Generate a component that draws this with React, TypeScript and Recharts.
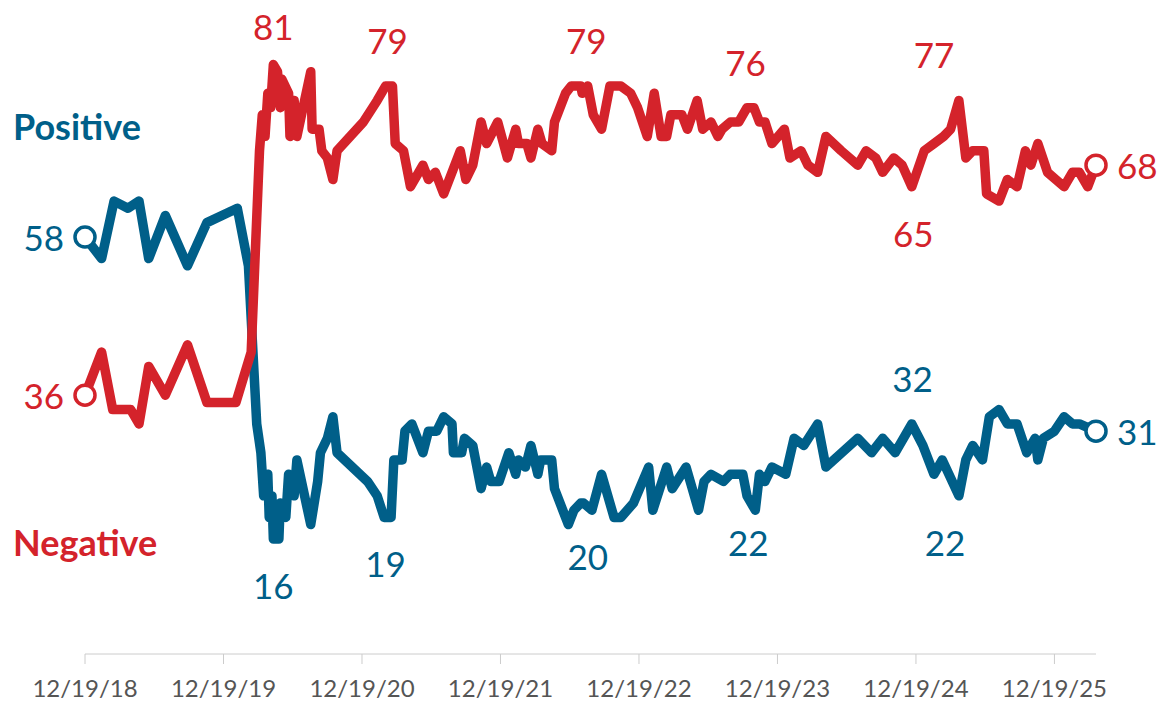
import React from 'react';
import { LineChart, Line, XAxis, YAxis, ReferenceDot } from 'recharts';

const BLUE = '#005f89';
const RED = '#d4232b';
const FONT = 'Lato, "Open Sans", sans-serif';

// x values are decimal years
const posDates = [
  2018.96, 2019.08, 2019.17, 2019.27, 2019.35, 2019.42, 2019.54, 2019.70, 2019.84, 2020.06,
  2020.14, 2020.20, 2020.23, 2020.25, 2020.28, 2020.29, 2020.31, 2020.32, 2020.36, 2020.37,
  2020.41, 2020.43, 2020.47, 2020.49, 2020.59, 2020.64, 2020.66, 2020.71, 2020.75, 2020.78,
  2021.00, 2021.07, 2021.12, 2021.17, 2021.19, 2021.25, 2021.27, 2021.32, 2021.40, 2021.44,
  2021.50, 2021.55, 2021.61, 2021.62, 2021.68, 2021.70, 2021.76, 2021.82, 2021.86, 2021.89,
  2021.95, 2022.02, 2022.07, 2022.09, 2022.14, 2022.18, 2022.23, 2022.25, 2022.33, 2022.35,
  2022.41, 2022.45, 2022.49, 2022.54, 2022.56, 2022.62, 2022.69, 2022.78, 2022.83, 2022.92,
  2023.03, 2023.06, 2023.16, 2023.20, 2023.30, 2023.39, 2023.43, 2023.48, 2023.57, 2023.62,
  2023.71, 2023.74, 2023.80, 2023.83, 2023.87, 2023.92, 2024.02, 2024.08, 2024.15, 2024.25,
  2024.31, 2024.54, 2024.64, 2024.72, 2024.81, 2024.93, 2025.01, 2025.09, 2025.15, 2025.27,
  2025.32, 2025.37, 2025.44, 2025.49, 2025.56, 2025.62, 2025.69, 2025.76, 2025.82, 2025.84,
  2025.88, 2025.96, 2026.03, 2026.09, 2026.14, 2026.26,
];
const posValues = [
  58, 55, 63, 62, 63, 55, 61, 54, 60, 62,
  54, 32, 28, 22, 25, 19, 22, 16, 16, 21,
  19, 25, 22, 27, 18, 24, 28, 30, 33, 28,
  24, 22, 19, 19, 27, 27, 31, 32, 28, 31,
  31, 33, 32, 28, 28, 30, 29, 23, 26, 24,
  24, 28, 25, 27, 26, 29, 25, 27, 27, 23,
  20, 18, 20, 21, 21, 20, 25, 19, 19, 21,
  26, 20, 26, 23, 26, 20, 24, 25, 24, 25,
  25, 22, 20, 25, 24, 26, 25, 30, 29, 32,
  26, 30, 28, 30, 28, 32, 29, 25, 27, 22,
  27, 29, 27, 33, 34, 32, 32, 28, 30, 27,
  30, 31, 33, 32, 32, 31,
];

const negDates = [
  2018.96, 2019.08, 2019.16, 2019.29, 2019.35, 2019.42, 2019.54, 2019.70, 2019.84, 2020.05,
  2020.16, 2020.22, 2020.24, 2020.26, 2020.28, 2020.30, 2020.32, 2020.35, 2020.37, 2020.38,
  2020.43, 2020.44, 2020.47, 2020.49, 2020.59, 2020.60, 2020.65, 2020.67, 2020.71, 2020.75,
  2020.78, 2020.97, 2021.07, 2021.13, 2021.18, 2021.20, 2021.26, 2021.31, 2021.40, 2021.44,
  2021.49, 2021.55, 2021.67, 2021.71, 2021.76, 2021.82, 2021.86, 2021.94, 2022.01, 2022.07,
  2022.09, 2022.15, 2022.18, 2022.23, 2022.26, 2022.33, 2022.35, 2022.43, 2022.47, 2022.54,
  2022.55, 2022.59, 2022.63, 2022.69, 2022.75, 2022.83, 2022.90, 2022.95, 2023.02, 2023.07,
  2023.12, 2023.16, 2023.19, 2023.24, 2023.27, 2023.31, 2023.38, 2023.42, 2023.48, 2023.53,
  2023.56, 2023.62, 2023.68, 2023.74, 2023.79, 2023.83, 2023.87, 2023.92, 2024.01, 2024.05,
  2024.13, 2024.18, 2024.25, 2024.31, 2024.42, 2024.54, 2024.60, 2024.67, 2024.72, 2024.80,
  2024.86, 2024.93, 2025.02, 2025.09, 2025.16, 2025.21, 2025.27, 2025.32, 2025.37, 2025.45,
  2025.47, 2025.56, 2025.62, 2025.69, 2025.75, 2025.79, 2025.84, 2025.91, 2026.03, 2026.09,
  2026.14, 2026.20, 2026.26,
];
const negValues = [
  36, 42, 34, 34, 32, 40, 36, 43, 35, 35,
  42, 70, 75, 72, 78, 76, 82, 81, 76, 80,
  78, 72, 77, 72, 81, 73, 73, 70, 69, 66,
  70, 74, 77, 79, 79, 71, 70, 65, 68, 66,
  67, 64, 70, 66, 68, 74, 71, 74, 69, 73,
  71, 71, 69, 73, 71, 70, 74, 78, 79, 79,
  78, 79, 75, 73, 79, 79, 78, 76, 72, 78,
  72, 72, 75, 75, 75, 73, 77, 73, 74, 72,
  73, 74, 74, 76, 76, 74, 74, 71, 73, 69,
  70, 68, 67, 72, 70, 68, 70, 69, 67, 69,
  68, 65, 70, 71, 72, 73, 77, 69, 70, 70,
  64, 63, 66, 65, 70, 68, 71, 67, 65, 67,
  67, 65, 68,
];

// callouts: where each number sits and whether it goes above or below the line
const negNoteDates = [2020.32, 2021.145, 2022.58, 2023.73, 2025.09, 2024.94];
const negNoteValues = [81, 79, 79, 76, 77, 65];
const negNoteSides = ['up', 'up', 'up', 'up', 'up', 'down'];

const posNoteDates = [2020.32, 2021.13, 2022.59, 2023.75, 2025.17, 2024.935];
const posNoteValues = [16, 19, 20, 22, 22, 32];
const posNoteSides = ['down', 'down', 'down', 'down', 'down', 'up'];

const xTicks = [2018.96, 2019.96, 2020.96, 2021.96, 2022.96, 2023.96, 2024.96, 2025.96];
const xTickLabels = ['12/19/18', '12/19/19', '12/19/20', '12/19/21', '12/19/22', '12/19/23', '12/19/24', '12/19/25'];

const startDate = posDates[0];
const endDate = posDates[posDates.length - 1];

const posData = posDates.map((d, i) => ({ d, v: posValues[i] }));
const negData = negDates.map((d, i) => ({ d, v: negValues[i] }));

const tag = (text: string, color: string, dx: number, dy: number, anchor: string) => (props: any) => {
  const vb = props.viewBox || {};
  const cx = vb.x + (vb.width || 0) / 2;
  const cy = vb.y + (vb.height || 0) / 2;
  return (
    <text x={cx + dx} y={cy + dy} fill={color} fontSize={35} fontFamily={FONT}
      textAnchor={anchor} dominantBaseline="central">
      {text}
    </text>
  );
};

const App: React.FC = () => {
  return (
    <div style={{ position: 'absolute', left: 0, top: 0, width: 1161, height: 705, background: '#fff' }}>
      <LineChart width={1161} height={705} margin={{ top: 7, right: 65, bottom: 0, left: 85 }}>
        <XAxis
          dataKey="d"
          type="number"
          domain={[startDate, endDate]}
          ticks={xTicks}
          tickFormatter={(v: number) => xTickLabels[xTicks.indexOf(v)]}
          height={51}
          stroke="#cccccc"
          tickSize={10}
          tickMargin={16}
          tick={{ fill: '#555555', fontSize: 24, fontFamily: FONT }}
          allowDuplicatedCategory={false}
        />
        <YAxis hide domain={[0, 90]} />
        <Line data={posData} dataKey="v" type="linear" stroke={BLUE} strokeWidth={9.5}
          strokeLinejoin="round" strokeLinecap="round" dot={false} isAnimationActive={false} />
        <Line data={negData} dataKey="v" type="linear" stroke={RED} strokeWidth={9.5}
          strokeLinejoin="round" strokeLinecap="round" dot={false} isAnimationActive={false} />

        {negNoteDates.map((d, i) => (
          <ReferenceDot key={'n' + i} x={d} y={negNoteValues[i]} r={1} fill="none" stroke="none" ifOverflow="visible"
            label={tag(String(negNoteValues[i]), RED, 0, negNoteSides[i] === 'up' ? -46 : 46, 'middle')} />
        ))}
        {posNoteDates.map((d, i) => (
          <ReferenceDot key={'p' + i} x={d} y={posNoteValues[i]} r={1} fill="none" stroke="none" ifOverflow="visible"
            label={tag(String(posNoteValues[i]), BLUE, 0, posNoteSides[i] === 'up' ? -46 : 46, 'middle')} />
        ))}

        <ReferenceDot x={startDate} y={posValues[0]} r={10} fill="#fff" stroke={BLUE} strokeWidth={3.5} ifOverflow="visible"
          label={tag(String(posValues[0]), BLUE, -21, 0, 'end')} />
        <ReferenceDot x={startDate} y={negValues[0]} r={10} fill="#fff" stroke={RED} strokeWidth={3.5} ifOverflow="visible"
          label={tag(String(negValues[0]), RED, -21, 0, 'end')} />
        <ReferenceDot x={endDate} y={posValues[posValues.length - 1]} r={10} fill="#fff" stroke={BLUE} strokeWidth={3.5} ifOverflow="visible"
          label={tag(String(posValues[posValues.length - 1]), BLUE, 21, 0, 'start')} />
        <ReferenceDot x={endDate} y={negValues[negValues.length - 1]} r={10} fill="#fff" stroke={RED} strokeWidth={3.5} ifOverflow="visible"
          label={tag(String(negValues[negValues.length - 1]), RED, 21, 0, 'start')} />
      </LineChart>

      <div style={{ position: 'absolute', left: 13, top: 108, fontFamily: FONT, fontWeight: 700, fontSize: 36, lineHeight: '36px', color: BLUE }}>
        Positive
      </div>
      <div style={{ position: 'absolute', left: 13, top: 524, fontFamily: FONT, fontWeight: 700, fontSize: 36, lineHeight: '36px', color: RED }}>
        Negative
      </div>
    </div>
  );
};

export default App;
